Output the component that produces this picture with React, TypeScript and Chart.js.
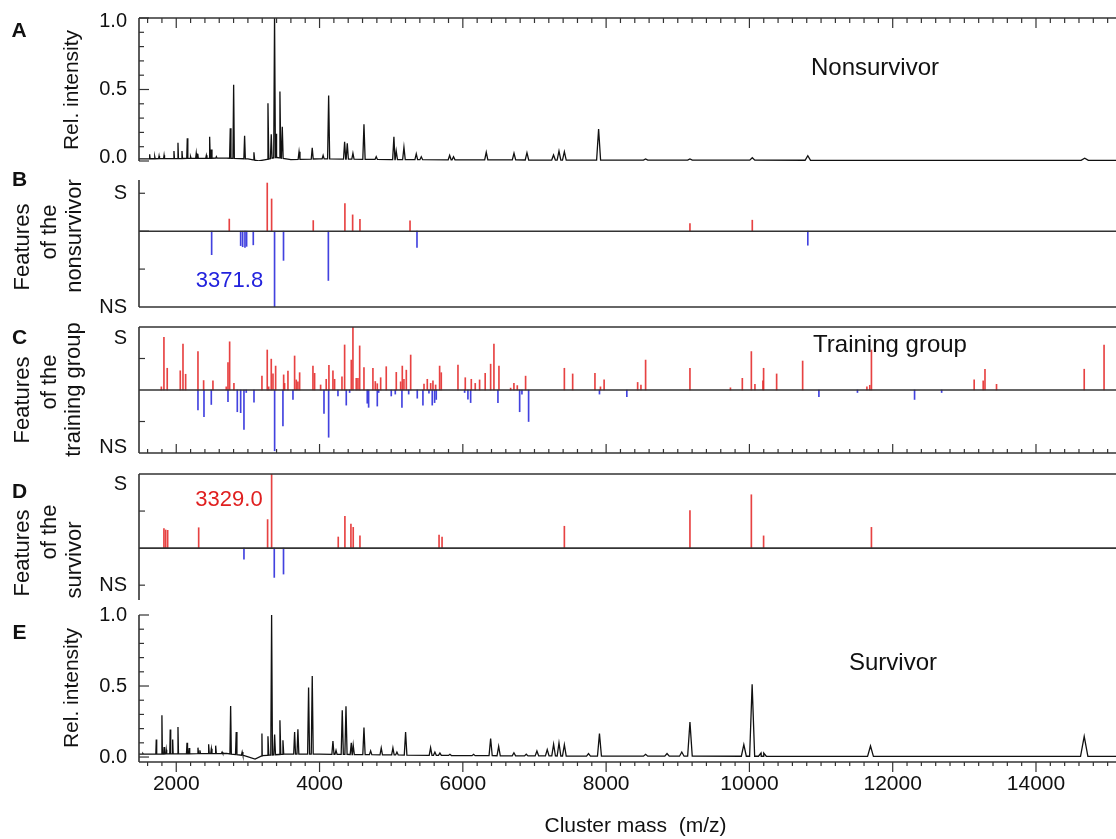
import React, { useEffect, useRef } from 'react';
import { Chart, registerables } from 'chart.js';
Chart.register(...registerables);

const FONT = '"Liberation Sans", Arial, Helvetica, sans-serif';
const INK = '#111';
const AXIS = '#333';
const RED = 'rgba(228,45,45,0.9)';
const BLUE = 'rgba(45,45,220,0.9)';
const CANVAS_W = 1140;
const LEFT_W = 139;

// shared x axis (cluster mass, m/z)
const X_MIN = 1480;
const X_MAX = 15340;
const X_TICKS = [2000, 4000, 6000, 8000, 10000, 12000, 14000];
const X_MINOR_STEP = 200;
const X_MAJOR_STEP = 2000;
const X_TITLE = 'Cluster mass  (m/z)';

// A: nonsurvivor spectrum
const NONSURV_PEAK_MZ = [1629, 1700, 1760, 1830, 1968, 2024, 2080, 2154, 2200, 2279, 2300, 2420, 2466, 2490, 2560, 2754, 2801, 2954, 3084, 3280, 3326, 3372, 3396, 3447, 3480, 3714, 3898, 4050, 4127, 4350, 4387, 4466, 4620, 4791, 5038, 5070, 5178, 5350, 5420, 5816, 5870, 6327, 6714, 6895, 7266, 7342, 7417, 7895, 8551, 9170, 10040, 10815, 14680];
const NONSURV_PEAK_INT = [0.047, 0.03, 0.035, 0.04, 0.07, 0.128, 0.07, 0.159, 0.03, 0.055, 0.05, 0.04, 0.17, 0.08, 0.03, 0.229, 0.533, 0.177, 0.061, 0.404, 0.187, 1.02, 0.19, 0.486, 0.24, 0.065, 0.093, 0.04, 0.458, 0.135, 0.124, 0.054, 0.257, 0.03, 0.17, 0.07, 0.096, 0.05, 0.03, 0.04, 0.03, 0.061, 0.054, 0.058, 0.042, 0.07, 0.065, 0.224, 0.014, 0.014, 0.023, 0.037, 0.019];
const NONSURV_BASE_MZ = [1480, 2700, 3000, 3150, 3250, 3400, 3600, 4000, 5000, 6000, 8000, 15340];
const NONSURV_BASE_INT = [0.015, 0.02, 0.015, 0.0, 0.01, 0.025, 0.01, 0.015, 0.01, 0.008, 0.006, 0.004];

// E: survivor spectrum
const SURV_PEAK_MZ = [1535, 1721, 1800, 1830, 1860, 1916, 1950, 2024, 2150, 2180, 2303, 2330, 2452, 2490, 2550, 2640, 2759, 2837, 2920, 3196, 3280, 3331, 3373, 3447, 3489, 3652, 3698, 3847, 3898, 4187, 4230, 4317, 4369, 4443, 4470, 4620, 4713, 4861, 5024, 5080, 5201, 5550, 5610, 5680, 5820, 6150, 6388, 6500, 6713, 6885, 7034, 7178, 7267, 7342, 7417, 7754, 7907, 8551, 8850, 9056, 9170, 9922, 10038, 10162, 10200, 11690, 14673];
const SURV_PEAK_INT = [0.024, 0.123, 0.294, 0.07, 0.052, 0.193, 0.123, 0.212, 0.1, 0.064, 0.066, 0.047, 0.09, 0.059, 0.08, 0.035, 0.36, 0.176, 0.035, 0.165, 0.146, 1.0, 0.158, 0.259, 0.118, 0.176, 0.195, 0.49, 0.57, 0.113, 0.047, 0.33, 0.358, 0.1, 0.083, 0.207, 0.043, 0.064, 0.064, 0.035, 0.176, 0.066, 0.035, 0.028, 0.019, 0.019, 0.13, 0.076, 0.03, 0.02, 0.043, 0.052, 0.09, 0.1, 0.087, 0.024, 0.165, 0.019, 0.024, 0.035, 0.247, 0.087, 0.513, 0.028, 0.028, 0.078, 0.146];
const SURV_BASE_MZ = [1480, 2700, 2950, 3100, 3200, 3500, 4000, 5000, 6000, 8000, 12000, 15340];
const SURV_BASE_INT = [0.02, 0.025, 0.01, -0.015, 0.01, 0.02, 0.02, 0.015, 0.01, 0.006, 0.005, 0.005];
const PEAK_HALF_WIDTH = 0.0035; // fraction of m/z

// B: features of the nonsurvivor
const B_POS_MZ = [2740, 3270, 3331, 3912, 4354, 4462, 4564, 5263, 9170, 10040];
const B_POS_VAL = [0.32, 1.27, 0.85, 0.28, 0.73, 0.43, 0.31, 0.27, 0.2, 0.29];
const B_NEG_MZ = [2494, 2899, 2927, 2959, 2982, 3075, 3372, 3497, 4123, 5360, 10815];
const B_NEG_VAL = [-0.62, -0.38, -0.41, -0.43, -0.4, -0.36, -2.0, -0.77, -1.3, -0.43, -0.37];

// C: features of the training group
const C_POS_MZ = [1792, 1828, 1874, 2056, 2094, 2131, 2303, 2382, 2512, 2698, 2722, 2745, 2805, 3196, 3270, 3290, 3326, 3350, 3387, 3499, 3512, 3559, 3652, 3675, 3698, 3722, 3908, 3931, 4015, 4093, 4131, 4187, 4210, 4313, 4350, 4443, 4466, 4512, 4536, 4560, 4620, 4745, 4778, 4806, 4853, 4931, 5071, 5132, 5155, 5178, 5211, 5272, 5458, 5504, 5551, 5583, 5620, 5676, 5699, 5932, 6034, 6118, 6173, 6234, 6312, 6388, 6434, 6504, 6667, 6713, 6760, 6876, 7417, 7533, 7844, 7921, 7972, 8440, 8486, 8551, 9170, 9735, 9901, 10027, 10077, 10189, 10198, 10380, 10743, 11640, 11680, 11703, 13137, 13263, 13288, 13449, 14673, 14950];
const C_POS_VAL = [0.1, 1.67, 0.69, 0.61, 1.46, 0.5, 1.22, 0.3, 0.29, 0.1, 0.87, 1.53, 0.21, 0.44, 1.27, 0.1, 0.98, 0.51, 0.76, 0.48, 0.21, 0.6, 1.08, 0.32, 0.26, 0.55, 0.76, 0.53, 0.16, 0.34, 0.78, 0.61, 0.34, 0.42, 1.43, 0.95, 2.0, 0.37, 0.37, 1.4, 0.71, 0.69, 0.27, 0.2, 0.39, 0.74, 0.56, 0.26, 0.76, 0.34, 0.63, 1.11, 0.19, 0.34, 0.21, 0.29, 0.16, 0.76, 0.55, 0.79, 0.39, 0.34, 0.21, 0.32, 0.53, 0.82, 1.46, 0.76, 0.06, 0.21, 0.14, 0.44, 0.69, 0.51, 0.53, 0.1, 0.32, 0.24, 0.16, 0.95, 0.69, 0.07, 0.37, 1.22, 0.18, 0.29, 0.69, 0.51, 0.92, 0.1, 0.15, 1.27, 0.32, 0.29, 0.66, 0.18, 0.66, 1.43];
const C_NEG_MZ = [2303, 2387, 2489, 2722, 2852, 2899, 2945, 2977, 3085, 3373, 3489, 3629, 4062, 4127, 4257, 4373, 4420, 4666, 4685, 4806, 4825, 5001, 5057, 5150, 5244, 5364, 5443, 5527, 5573, 5606, 5629, 6025, 6071, 6109, 6490, 6793, 6825, 6918, 7907, 8289, 10970, 11508, 12305, 12683];
const C_NEG_VAL = [-0.63, -0.85, -0.46, -0.37, -0.69, -0.72, -1.25, -0.08, -0.39, -1.93, -1.14, -0.3, -0.74, -1.5, -0.19, -0.48, -0.08, -0.42, -0.55, -0.51, -0.08, -0.19, -0.13, -0.55, -0.13, -0.26, -0.48, -0.1, -0.48, -0.4, -0.3, -0.08, -0.29, -0.4, -0.4, -0.69, -0.13, -1.0, -0.13, -0.21, -0.21, -0.08, -0.3, -0.08];

// D: features of the survivor
const D_POS_MZ = [1828, 1852, 1880, 2313, 3275, 3331, 4261, 4354, 4438, 4470, 4564, 5668, 5710, 7417, 9170, 10027, 10198, 11703];
const D_POS_VAL = [0.53, 0.49, 0.48, 0.55, 0.77, 2.0, 0.3, 0.86, 0.65, 0.56, 0.33, 0.35, 0.3, 0.59, 1.01, 1.44, 0.33, 0.56];
const D_NEG_MZ = [2945, 3368, 3497];
const D_NEG_VAL = [-0.3, -0.79, -0.7];

function baselineAt(m: number, bx: number[], by: number[]) {
  for (let i = 0; i < bx.length - 1; i++) {
    if (m >= bx[i] && m <= bx[i + 1]) {
      const t = (m - bx[i]) / (bx[i + 1] - bx[i]);
      return by[i] + t * (by[i + 1] - by[i]);
    }
  }
  return by[by.length - 1];
}

function spectrumPoints(pm: number[], pi: number[], bx: number[], by: number[]) {
  const pts = bx.map((m, i) => ({ x: m, y: by[i] }));
  pm.forEach((m, i) => {
    const hw = m * PEAK_HALF_WIDTH;
    pts.push({ x: m - hw, y: baselineAt(m - hw, bx, by) });
    pts.push({ x: m, y: pi[i] });
    pts.push({ x: m + hw, y: baselineAt(m + hw, bx, by) });
  });
  return pts.sort((a, b) => a.x - b.x);
}

const toXY = (xs: number[], ys: number[]) => xs.map((x, i) => ({ x, y: ys[i] }));

function lineDS(data: any[]) {
  return { type: 'line', data, borderColor: INK, borderWidth: 1.3, pointRadius: 0, tension: 0 };
}
function barDS(data: any[], color: string) {
  return { type: 'bar', data, backgroundColor: color, borderWidth: 0, barThickness: 1, grouped: false };
}

const intensityTicks = () => {
  const t: [number, number][] = [];
  for (let k = 0; k <= 10; k++) t.push([k / 10, k % 5 === 0 ? 10 : 5]);
  return t;
};

const PANELS: any[] = [
  {
    id: 'A', top: 0, height: 170, padTop: 18, padBottom: 9, yMin: 0, yMax: 1,
    yLabelVals: [0.975, 0.5, 0.025], yLabels: ['1.0', '0.5', '0.0'],
    yMarks: intensityTicks(), frameTop: true, frameBottom: false, zero: false,
    xTicks: { edge: 'top', dir: 1, major: 10, minor: 5 },
    datasets: [lineDS(spectrumPoints(NONSURV_PEAK_MZ, NONSURV_PEAK_INT, NONSURV_BASE_MZ, NONSURV_BASE_INT))],
    texts: [
      { t: 'A', x: 19, y: 31, size: 21, bold: true },
      { t: 'Rel. intensity', x: 72, y: 90, size: 21, rot: true },
      { t: 'Nonsurvivor', x: 875, y: 68, size: 24 },
    ],
  },
  {
    id: 'B', top: 170, height: 145, padTop: 10, padBottom: 8, yMin: -2, yMax: 1.35,
    yLabelVals: [1, -2], yLabels: ['S', 'NS'],
    yMarks: [[1, 6], [0, 10], [-1, 6]], frameTop: false, frameBottom: true, zero: true,
    datasets: [barDS(toXY(B_POS_MZ, B_POS_VAL), RED), barDS(toXY(B_NEG_MZ, B_NEG_VAL), BLUE)],
    texts: [
      { t: 'B', x: 19.5, y: 180, size: 21, bold: true },
      { t: 'Features', x: 22.5, y: 247, size: 22, rot: true },
      { t: 'of the', x: 50, y: 232, size: 22, rot: true },
      { t: 'nonsurvivor', x: 74.5, y: 236, size: 22, rot: true },
      { t: '3371.8', x: 229.5, y: 280.5, size: 22, color: '#2222dd' },
    ],
  },
  {
    id: 'C', top: 315, height: 150, padTop: 12, padBottom: 12, yMin: -2, yMax: 2,
    yLabelVals: [1.62, -1.81], yLabels: ['S', 'NS'],
    yMarks: [[1, 6], [-1, 6]], frameTop: true, frameBottom: true, zero: true,
    xTicks: { edge: 'bottom', dir: -1, major: 9, minor: 4 },
    datasets: [barDS(toXY(C_POS_MZ, C_POS_VAL), RED), barDS(toXY(C_NEG_MZ, C_NEG_VAL), BLUE)],
    texts: [
      { t: 'C', x: 19.5, y: 338, size: 21, bold: true },
      { t: 'Features', x: 22.5, y: 400, size: 22, rot: true },
      { t: 'of the', x: 50, y: 382, size: 22, rot: true },
      { t: 'training group', x: 74, y: 389.5, size: 22, rot: true },
      { t: 'Training group', x: 890, y: 345, size: 24 },
    ],
  },
  {
    id: 'D', top: 465, height: 145, padTop: 9, padBottom: 10, yMin: -1.4, yMax: 2,
    yLabelVals: [1.73, -1], yLabels: ['S', 'NS'],
    yMarks: [[1, 6], [-1, 6]], frameTop: true, frameBottom: false, zero: true,
    datasets: [barDS(toXY(D_POS_MZ, D_POS_VAL), RED), barDS(toXY(D_NEG_MZ, D_NEG_VAL), BLUE)],
    texts: [
      { t: 'D', x: 19.5, y: 492, size: 21, bold: true },
      { t: 'Features', x: 22.5, y: 553, size: 22, rot: true },
      { t: 'of the', x: 50, y: 532, size: 22, rot: true },
      { t: 'survivor', x: 74.5, y: 560, size: 22, rot: true },
      { t: '3329.0', x: 229, y: 500, size: 22, color: '#e02020' },
    ],
  },
  {
    id: 'E', top: 605, height: 234, padTop: 10, padBottom: 0, yMin: -0.035, yMax: 1,
    yLabelVals: [1, 0.5, 0], yLabels: ['1.0', '0.5', '0.0'], showX: true, xAxisH: 77,
    yMarks: intensityTicks(), frameTop: false, frameBottom: true, zero: false,
    xTicks: { edge: 'bottom', dir: 1, major: 10, minor: 4 },
    datasets: [lineDS(spectrumPoints(SURV_PEAK_MZ, SURV_PEAK_INT, SURV_BASE_MZ, SURV_BASE_INT))],
    texts: [
      { t: 'E', x: 19.5, y: 633, size: 21, bold: true },
      { t: 'Rel. intensity', x: 72, y: 688, size: 21, rot: true },
      { t: 'Survivor', x: 893, y: 663, size: 24 },
    ],
  },
];

function makeFramePlugin(p: any) {
  return {
    id: 'frame' + p.id,
    afterDatasetsDraw(chart: any) {
      const { ctx, chartArea: ca, scales } = chart;
      const xs = scales.x, ys = scales.y;
      ctx.save();
      ctx.strokeStyle = AXIS;
      ctx.lineWidth = 1.6;
      const line = (x1: number, y1: number, x2: number, y2: number) => {
        ctx.beginPath(); ctx.moveTo(x1, y1); ctx.lineTo(x2, y2); ctx.stroke();
      };
      line(ca.left, ca.top, ca.left, ca.bottom);
      if (p.frameTop) line(ca.left, ca.top, ca.right, ca.top);
      if (p.frameBottom) line(ca.left, ca.bottom, ca.right, ca.bottom);
      if (p.zero) { const y0 = ys.getPixelForValue(0); line(ca.left, y0, ca.right, y0); }
      ctx.lineWidth = 1.2;
      if (p.xTicks) {
        const { edge, dir, major, minor } = p.xTicks;
        const y = edge === 'top' ? ca.top : ca.bottom;
        const start = Math.ceil(xs.min / X_MINOR_STEP) * X_MINOR_STEP;
        for (let m = start; m <= xs.max; m += X_MINOR_STEP) {
          const px = xs.getPixelForValue(m);
          const len = m % X_MAJOR_STEP === 0 ? major : minor;
          line(px, y, px, y + dir * len);
        }
      }
      p.yMarks.forEach(([v, len]: [number, number]) => {
        const py = ys.getPixelForValue(v);
        line(ca.left, py, ca.left + len, py);
      });
      p.texts.forEach((tx: any) => {
        ctx.save();
        ctx.fillStyle = tx.color || INK;
        ctx.font = `${tx.bold ? 'bold ' : ''}${tx.size}px ${FONT}`;
        ctx.textAlign = 'center';
        ctx.textBaseline = 'middle';
        ctx.translate(tx.x, tx.y - p.top);
        if (tx.rot) ctx.rotate(-Math.PI / 2);
        ctx.fillText(tx.t, 0, 0);
        ctx.restore();
      });
      ctx.restore();
    },
  };
}

function buildConfig(p: any): any {
  return {
    type: 'bar',
    data: { datasets: p.datasets },
    options: {
      animation: false,
      responsive: false,
      maintainAspectRatio: false,
      events: [],
      layout: { padding: { top: p.padTop, bottom: p.padBottom, left: 0, right: 8 } },
      plugins: { legend: { display: false }, tooltip: { enabled: false }, title: { display: false } },
      scales: {
        x: {
          type: 'linear', min: X_MIN, max: X_MAX, offset: false, display: !!p.showX,
          grid: { display: false, drawTicks: true, tickLength: 10, offset: false },
          border: { display: false },
          afterBuildTicks: (s: any) => { s.ticks = X_TICKS.map((v) => ({ value: v })); },
          afterFit: (s: any) => {
            if (p.showX) s.height = p.xAxisH;
            s.paddingLeft = 0; s.paddingRight = 0;
          },
          ticks: { autoSkip: false, maxRotation: 0, minRotation: 0, padding: 0, color: INK, font: { family: FONT, size: 21 }, callback: (v: any) => String(v) },
          title: { display: !!p.showX, text: X_TITLE, color: INK, font: { family: FONT, size: 21 }, padding: { top: 0, bottom: 0 } },
        },
        y: {
          type: 'linear', min: p.yMin, max: p.yMax,
          grid: { display: false, drawTicks: false },
          border: { display: false },
          afterBuildTicks: (s: any) => { s.ticks = p.yLabelVals.map((v: number) => ({ value: v })); },
          afterFit: (s: any) => {
            s.width = LEFT_W;
            s.paddingTop = 0; s.paddingBottom = 0;
          },
          ticks: { autoSkip: false, padding: 12, color: INK, font: { family: FONT, size: 20 }, callback: (_v: any, i: number) => p.yLabels[i] },
        },
      },
    },
    plugins: [makeFramePlugin(p)],
  };
}

function Panel({ p }: { p: any }) {
  const ref = useRef<HTMLCanvasElement>(null);
  useEffect(() => {
    const chart = new Chart(ref.current as HTMLCanvasElement, buildConfig(p));
    return () => chart.destroy();
  }, []);
  return (
    <canvas
      ref={ref}
      width={CANVAS_W}
      height={p.height}
      style={{ position: 'absolute', left: 0, top: p.top, display: 'block', width: CANVAS_W, height: p.height }}
    />
  );
}

export default function App() {
  return (
    <div style={{ position: 'fixed', left: 0, top: 0, width: 1116, height: 839, overflow: 'hidden', background: '#fff' }}>
      {PANELS.map((p) => <Panel key={p.id} p={p} />)}
    </div>
  );
}
